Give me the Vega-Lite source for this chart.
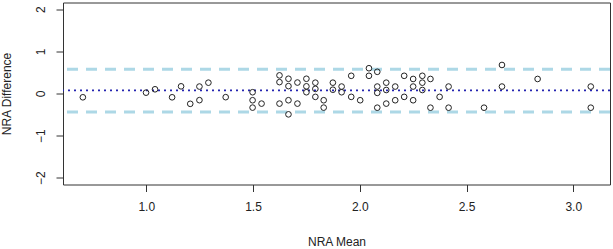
{
  "$schema": "https://vega.github.io/schema/vega-lite/v6.json",
  "autosize": {"type": "none"},
  "width": 547,
  "height": 182,
  "padding": {"left": 63, "top": 2.5, "right": 3, "bottom": 64.5},
  "background": "white",
  "config": {
    "view": {"stroke": "#333333", "strokeWidth": 1},
    "font": "Liberation Sans",
    "axis": {
      "grid": false,
      "domain": false,
      "tickColor": "#333333",
      "tickSize": 7,
      "labelFont": "Liberation Sans",
      "labelFontSize": 12,
      "labelColor": "#222222",
      "titleFont": "Liberation Sans",
      "titleFontSize": 12,
      "titleFontWeight": "normal",
      "titleColor": "#222222"
    }
  },
  "layer": [
    {
      "data": {"values": [
        {"lim": 0.574}, {"lim": -0.44}
      ]},
      "mark": {"type": "rule", "color": "#ADD8E6", "strokeWidth": 3, "strokeDash": [11, 8]},
      "encoding": {
        "y": {"field": "lim", "type": "quantitative", "scale": {"domain": [-2.16, 2.16], "nice": false, "zero": false}}
      }
    },
    {
      "data": {"values": [
        {"mean": 0.075}
      ]},
      "mark": {"type": "rule", "color": "#2424b0", "strokeWidth": 1.8, "strokeDash": [2, 4]},
      "encoding": {
        "y": {"field": "mean", "type": "quantitative"}
      }
    },
    {
      "data": {"values": [
        {"mean": 0.703, "diff": -0.09},
        {"mean": 0.999, "diff": 0.02},
        {"mean": 1.041, "diff": 0.10},
        {"mean": 1.121, "diff": -0.09},
        {"mean": 1.163, "diff": 0.17},
        {"mean": 1.206, "diff": -0.245},
        {"mean": 1.249, "diff": 0.165},
        {"mean": 1.249, "diff": -0.158},
        {"mean": 1.291, "diff": 0.257},
        {"mean": 1.372, "diff": -0.087},
        {"mean": 1.498, "diff": 0.03},
        {"mean": 1.498, "diff": -0.16},
        {"mean": 1.498, "diff": -0.335},
        {"mean": 1.540, "diff": -0.24},
        {"mean": 1.624, "diff": 0.43},
        {"mean": 1.624, "diff": 0.27},
        {"mean": 1.624, "diff": -0.24},
        {"mean": 1.666, "diff": 0.35},
        {"mean": 1.666, "diff": 0.175},
        {"mean": 1.666, "diff": -0.16},
        {"mean": 1.666, "diff": -0.495},
        {"mean": 1.708, "diff": 0.26},
        {"mean": 1.708, "diff": -0.24},
        {"mean": 1.750, "diff": 0.35},
        {"mean": 1.750, "diff": 0.17},
        {"mean": 1.750, "diff": 0.03},
        {"mean": 1.792, "diff": 0.257},
        {"mean": 1.792, "diff": 0.11},
        {"mean": 1.792, "diff": -0.08},
        {"mean": 1.831, "diff": -0.16},
        {"mean": 1.831, "diff": -0.335},
        {"mean": 1.874, "diff": 0.257},
        {"mean": 1.874, "diff": 0.09},
        {"mean": 1.915, "diff": 0.165},
        {"mean": 1.915, "diff": 0.03},
        {"mean": 1.960, "diff": 0.42},
        {"mean": 1.960, "diff": -0.08},
        {"mean": 2.002, "diff": -0.16},
        {"mean": 2.043, "diff": 0.60},
        {"mean": 2.043, "diff": 0.42},
        {"mean": 2.082, "diff": 0.515},
        {"mean": 2.082, "diff": 0.165},
        {"mean": 2.082, "diff": 0.015},
        {"mean": 2.082, "diff": -0.337},
        {"mean": 2.124, "diff": 0.257},
        {"mean": 2.124, "diff": 0.083},
        {"mean": 2.124, "diff": -0.24},
        {"mean": 2.166, "diff": 0.165},
        {"mean": 2.166, "diff": -0.16},
        {"mean": 2.208, "diff": 0.42},
        {"mean": 2.208, "diff": -0.08},
        {"mean": 2.250, "diff": 0.345},
        {"mean": 2.250, "diff": 0.165},
        {"mean": 2.250, "diff": -0.16},
        {"mean": 2.293, "diff": 0.42},
        {"mean": 2.293, "diff": 0.257},
        {"mean": 2.293, "diff": 0.083},
        {"mean": 2.331, "diff": 0.345},
        {"mean": 2.331, "diff": -0.337},
        {"mean": 2.374, "diff": -0.08},
        {"mean": 2.416, "diff": 0.165},
        {"mean": 2.416, "diff": -0.337},
        {"mean": 2.582, "diff": -0.337},
        {"mean": 2.666, "diff": 0.677},
        {"mean": 2.666, "diff": 0.165},
        {"mean": 2.833, "diff": 0.345},
        {"mean": 3.082, "diff": 0.165},
        {"mean": 3.082, "diff": -0.337}
      ]},
      "mark": {"type": "point", "shape": "circle", "filled": false, "stroke": "#222222", "strokeWidth": 1, "size": 32, "opacity": 1},
      "encoding": {
        "x": {
          "field": "mean", "type": "quantitative",
          "scale": {"domain": [0.61, 3.172], "nice": false, "zero": false},
          "axis": {"title": "NRA Mean", "values": [1, 1.5, 2, 2.5, 3], "format": ".1f", "labelPadding": 10, "titlePadding": 24}
        },
        "y": {
          "field": "diff", "type": "quantitative",
          "axis": {"title": "NRA Difference", "values": [-2, -1, 0, 1, 2], "format": "d", "labelAngle": -90, "labelAlign": "center", "labelBaseline": "bottom", "labelPadding": 9, "titlePadding": 21}
        }
      }
    }
  ]
}
